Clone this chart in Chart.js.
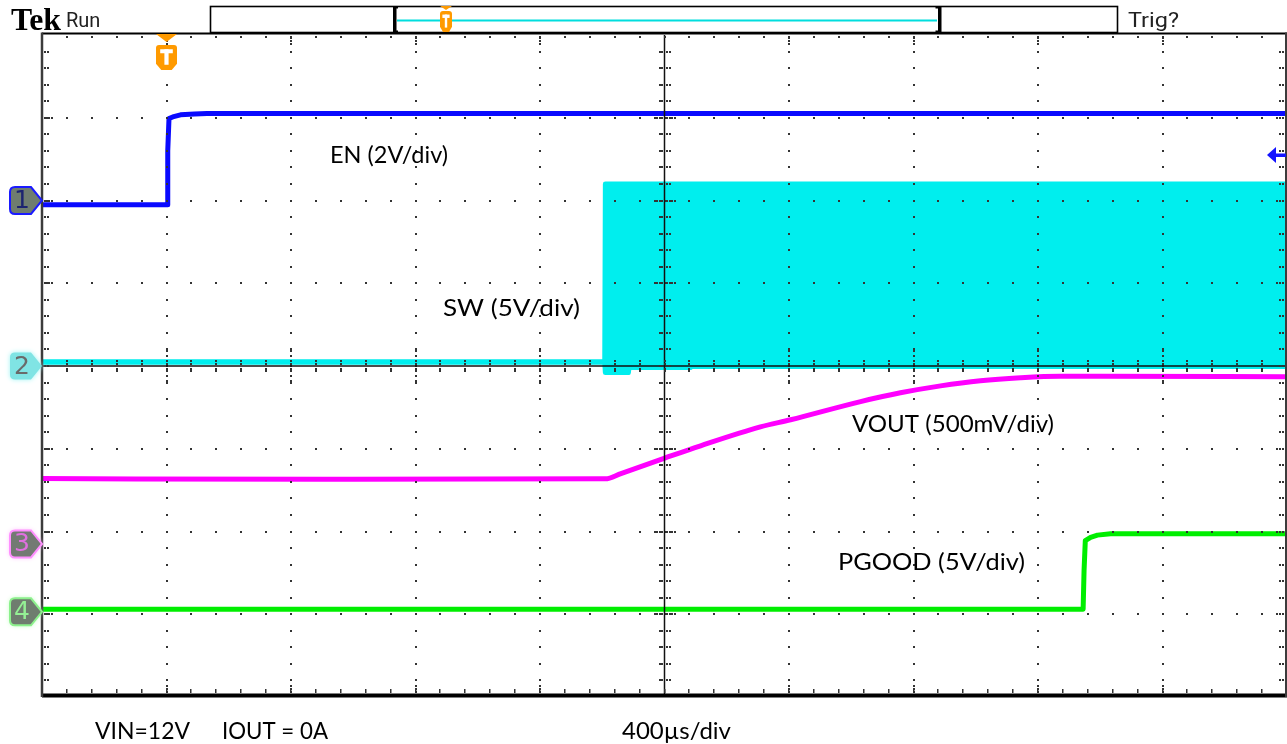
<!DOCTYPE html>
<html>
<head>
<meta charset="utf-8">
<title>Start-up waveforms</title>
<script src="https://cdn.jsdelivr.net/npm/chart.js@4.4.1/dist/chart.umd.min.js"></script>
<style>
  html, body { margin: 0; padding: 0; background: #fff; overflow: hidden; }
  #wrap { width: 1287px; height: 744px; position: relative; }
</style>
</head>
<body>
<div id="wrap"><canvas id="scope" width="1287" height="744"></canvas></div>
<script>
// ---- Horizontal axis: time in µs relative to the trigger, 400 µs/div, 10 divisions ----
const timeStart = -400;
const timeEnd = 3600;
const timePerDiv = 400;

// ---- Channel set-up ----
const channelNames  = ['EN', 'SW', 'VOUT', 'PGOOD'];
const channelLabels = ['EN (2V/div)', 'SW (5V/div)', 'VOUT (500mV/div)', 'PGOOD (5V/div)'];
const voltsPerDiv   = [2, 5, 0.5, 5];
const groundDiv     = [2.0, 0.0, -2.15, -2.97];   // ground reference, divisions from screen centre

// ---- EN (channel 1) ----
const enTime  = [-400, 2, 4, 8, 20, 45, 90, 130, 3600];
const enVolts = [-0.1, -0.1, 1.2, 1.98, 2.02, 2.07, 2.09, 2.1, 2.1];

// ---- SW (channel 2): the switching burst is shown as its upper / lower envelope ----
const swTime  = [-400, 1408, 1410, 1484, 1486, 1684, 1686, 3600];
const swUpper = [0.24, 0.24, 11.0, 11.0, 11.0, 11.0, 11.0, 11.0];
const swLower = [0.24, 0.24, -0.4, -0.4, -0.09, -0.09, -0.03, -0.03];

// ---- VOUT (channel 3) ----
const voutTime  = [-400, 500, 1410, 1460, 1603, 1716, 1908, 2005, 2230, 2358, 2487, 2615, 2744, 2872, 3000, 3600];
const voutVolts = [0.395, 0.39, 0.393, 0.425, 0.52, 0.593, 0.707, 0.75, 0.86, 0.913, 0.955, 0.986, 1.004, 1.013, 1.013, 1.01];

// ---- PGOOD (channel 4) ----
const pgTime  = [-400, 2945, 2948, 2952, 2969, 2991, 3033, 3600];
const pgVolts = [0.15, 0.15, 2.5, 4.3, 4.5, 4.63, 4.72, 4.72];

// ---- Trigger ----
const triggerTime  = 0;     // µs
const triggerLevel = 1.1;   // V on channel 1

// Convert a channel voltage to screen divisions
function toDiv(v, ch) { return groundDiv[ch] + v / voltsPerDiv[ch]; }
function points(times, volts, ch) { return times.map((t, i) => ({ x: t, y: toDiv(volts[i], ch) })); }

const colors = ['#0a0aff', '#00eeee', '#ff00ff', '#00ee00'];

// ---- Graticule drawn over the traces ----
const graticule = {
  id: 'graticule',
  afterDatasetsDraw(chart) {
    const { ctx, chartArea: a } = chart;
    const dx = (a.right - a.left) / 10, dy = (a.bottom - a.top) / 8;
    const cx = a.left + 5 * dx, cy = a.top + 4 * dy;
    ctx.save();
    ctx.fillStyle = '#333';
    const dot = (x, y) => ctx.fillRect(Math.round(x) - 1, Math.round(y) - 1, 2, 2);

    // dotted vertical division lines
    for (let i = 1; i < 10; i++) {
      if (i === 5) continue;
      const x = a.left + i * dx;
      for (let k = 1; k < 40; k++) dot(x, a.top + k * dy / 5);
      [3, 6, 9].forEach(o => { dot(x, a.top + o); dot(x, a.bottom - o - 2); });
      [-15, -10, -5, 5, 10, 15].forEach(o => dot(x, cy + o));
    }
    // dotted horizontal division lines
    for (let j = 1; j < 8; j++) {
      if (j === 4) continue;
      const y = a.top + j * dy;
      for (let k = 1; k < 50; k++) dot(a.left + k * dx / 5, y);
      [4, 7, 10].forEach(o => { dot(a.left + o, y); dot(a.right - o, y); });
      [-10, -7.5, -5, 5, 7.5, 10].forEach(o => dot(cx + o, y));
    }

    // centre cross with minor ticks
    ctx.strokeStyle = '#111';
    ctx.lineWidth = 1.5;
    ctx.beginPath();
    ctx.moveTo(cx, a.top); ctx.lineTo(cx, a.bottom);
    ctx.moveTo(a.left, cy); ctx.lineTo(a.right, cy);
    ctx.stroke();
    for (let k = 1; k < 40; k++) {
      const y = a.top + k * dy / 5;
      [-5, -2.5, 2.5, 5].forEach(o => dot(cx + o, y));
    }
    for (let k = 1; k < 50; k++) {
      const x = a.left + k * dx / 5;
      [-5, -2.5, 2.5, 5].forEach(o => dot(x, cy + o));
    }

    // border ticks
    for (let k = 1; k < 50; k++) {
      const x = a.left + k * dx / 5;
      dot(x, a.top + 2);
      ctx.fillRect(Math.round(x) - 1, a.bottom - 8, 1.5, 4);
    }
    for (let k = 1; k < 40; k++) {
      const y = a.top + k * dy / 5;
      dot(a.left + 3, y); dot(a.left + 6, y);
      dot(a.right - 4, y); dot(a.right - 7, y);
    }

    // frame
    ctx.strokeStyle = '#000';
    ctx.lineWidth = 2;
    ctx.beginPath(); ctx.moveTo(a.left, a.top - 1.5); ctx.lineTo(a.right, a.top - 1.5); ctx.stroke();
    ctx.lineWidth = 4;
    ctx.beginPath(); ctx.moveTo(a.left, a.bottom - 1.5); ctx.lineTo(a.right, a.bottom - 1.5); ctx.stroke();
    ctx.strokeStyle = '#3c3c3c';
    ctx.lineWidth = 2.5;
    ctx.beginPath(); ctx.moveTo(a.left, a.top - 2.5); ctx.lineTo(a.left, a.bottom); ctx.stroke();
    ctx.lineWidth = 2;
    ctx.beginPath(); ctx.moveTo(a.right - 1, a.top - 2.5); ctx.lineTo(a.right - 1, a.bottom); ctx.stroke();
    ctx.restore();
  }
};

// ---- Scope furniture: header, markers, annotations ----
function channelMarker(ctx, tipX, y, fill, stroke, glow, label, labelColor) {
  const h = 13.5, left = tipX - 32, bodyRight = tipX - 11, r = 5;
  ctx.save();
  ctx.beginPath();
  ctx.moveTo(left + r, y - h);
  ctx.lineTo(bodyRight, y - h);
  ctx.lineTo(tipX, y);
  ctx.lineTo(bodyRight, y + h);
  ctx.lineTo(left + r, y + h);
  ctx.quadraticCurveTo(left, y + h, left, y + h - r);
  ctx.lineTo(left, y - h + r);
  ctx.quadraticCurveTo(left, y - h, left + r, y - h);
  ctx.closePath();
  if (glow) { ctx.shadowColor = glow; ctx.shadowBlur = 5; }
  ctx.fillStyle = fill;
  ctx.fill();
  ctx.shadowBlur = 0;
  if (stroke) { ctx.strokeStyle = stroke; ctx.lineWidth = 2; ctx.stroke(); }
  ctx.fillStyle = labelColor;
  ctx.font = '25px "DejaVu Sans"';
  ctx.textAlign = 'center';
  ctx.textBaseline = 'middle';
  ctx.fillText(label, left + 12, y + 1);
  ctx.restore();
}

function triggerBadge(ctx, x, top, w, triH, badgeTop, badgeBottom) {
  ctx.save();
  ctx.fillStyle = '#ff9a00';
  ctx.beginPath();
  ctx.moveTo(x - w / 2, top); ctx.lineTo(x + w / 2, top); ctx.lineTo(x, top + triH); ctx.closePath();
  ctx.fill();
  const l = x - w / 2, r = x + w / 2, c = (badgeBottom - badgeTop) * 0.25;
  ctx.beginPath();
  ctx.moveTo(l + 3, badgeTop); ctx.lineTo(r - 3, badgeTop);
  ctx.quadraticCurveTo(r, badgeTop, r, badgeTop + 3);
  ctx.lineTo(r, badgeBottom - c); ctx.lineTo(x + w / 4, badgeBottom);
  ctx.lineTo(x - w / 4, badgeBottom); ctx.lineTo(l, badgeBottom - c);
  ctx.lineTo(l, badgeTop + 3); ctx.quadraticCurveTo(l, badgeTop, l + 3, badgeTop);
  ctx.closePath();
  ctx.fill();
  ctx.fillStyle = '#fff';
  const bh = badgeBottom - badgeTop;
  ctx.fillRect(x - w * 0.3, badgeTop + bh * 0.17, w * 0.6, bh * 0.16);
  ctx.fillRect(x - w * 0.1, badgeTop + bh * 0.17, w * 0.2, bh * 0.62);
  ctx.restore();
}

// Draw text stretched horizontally to a given width
function fitText(ctx, s, x, y, width) {
  const w = ctx.measureText(s).width;
  ctx.save();
  ctx.translate(x, y);
  ctx.scale(width / w, 1);
  ctx.fillText(s, 0, 0);
  ctx.restore();
}

const furniture = {
  id: 'furniture',
  afterDraw(chart) {
    const { ctx, chartArea: a, scales } = chart;
    ctx.save();

    // header
    ctx.fillStyle = '#000';
    ctx.textBaseline = 'alphabetic';
    ctx.font = 'bold 31px "Liberation Serif"';
    fitText(ctx, 'Tek', 11, 29.5, 50);
    ctx.fillStyle = '#222';
    ctx.font = '20px Roboto';
    ctx.fillText('Run', 66, 27);
    ctx.font = '21px Roboto';
    fitText(ctx, 'Trig?', 1128, 27, 51);

    // record view bar
    ctx.strokeStyle = '#000';
    ctx.lineWidth = 1.6;
    ctx.strokeRect(210.5, 6.5, 907, 26);
    ctx.strokeStyle = '#00dede';
    ctx.lineWidth = 2;
    ctx.beginPath(); ctx.moveTo(397, 20.5); ctx.lineTo(937, 20.5); ctx.stroke();
    ctx.fillStyle = '#000';
    [[393, 1], [937, -1]].forEach(([bx, dir]) => {
      const x0 = dir > 0 ? bx : bx + 1;
      ctx.fillRect(x0, 6, 3.5, 27);
      ctx.fillRect(dir > 0 ? bx : bx - 1.5, 6, 5, 2.5);
      ctx.fillRect(dir > 0 ? bx : bx - 1.5, 30.5, 5, 2.5);
    });
    triggerBadge(ctx, 446, 6, 12, 4, 11, 32);

    // trigger position marker
    const tx = scales.x.getPixelForValue(triggerTime);
    triggerBadge(ctx, tx, a.top - 1, 21, 8, 45, 70);

    // trigger level arrow (channel 1)
    const ty = scales.y.getPixelForValue(toDiv(triggerLevel, 0));
    ctx.fillStyle = '#1414ff';
    ctx.beginPath();
    ctx.moveTo(a.right - 20, ty); ctx.lineTo(a.right - 11, ty - 8); ctx.lineTo(a.right - 11, ty + 8); ctx.closePath();
    ctx.fill();
    ctx.fillRect(a.right - 12, ty - 1.5, 11, 3.5);

    // channel ground markers
    const mx = a.left;
    channelMarker(ctx, mx, scales.y.getPixelForValue(groundDiv[0]), '#6f7d6f', '#1a1aff', null, '1', '#1c2470');
    channelMarker(ctx, mx, scales.y.getPixelForValue(groundDiv[1]), '#80e4e4', null, '#a0f4f4', '2', '#6a6a6a');
    channelMarker(ctx, mx, scales.y.getPixelForValue(groundDiv[2]), '#737a73', '#ff90ff', '#ffb0ff', '3', '#e070e0');
    channelMarker(ctx, mx, scales.y.getPixelForValue(groundDiv[3]), '#6f7d6f', '#8cf08c', '#b0ffb0', '4', '#94f094');

    // trace annotations: [x, baseline, width]
    ctx.fillStyle = '#000';
    ctx.font = '24px Lato';
    ctx.textBaseline = 'alphabetic';
    const annot = [[330, 163, 118], [443, 316, 137], [852, 432, 202], [838, 570, 187]];
    channelLabels.forEach((s, i) => fitText(ctx, s, annot[i][0], annot[i][1], annot[i][2]));

    // conditions and timebase
    ctx.font = '23px Lato';
    fitText(ctx, 'VIN=12V', 95, 739, 95);
    fitText(ctx, 'IOUT = 0A', 222, 739, 106);
    fitText(ctx, timePerDiv + 'µs/div', 622, 739, 109);
    ctx.restore();
  }
};

const lineStyle = { pointRadius: 0, tension: 0, fill: false, borderJoinStyle: 'round', borderCapStyle: 'butt' };

new Chart(document.getElementById('scope'), {
  type: 'line',
  data: {
    datasets: [
      { ...lineStyle, label: channelNames[0], data: points(enTime, enVolts, 0), borderColor: colors[0], borderWidth: 5 },
      { ...lineStyle, label: channelNames[1] + ' low', data: points(swTime, swLower, 1), borderColor: colors[1], borderWidth: 5 },
      { ...lineStyle, label: channelNames[1] + ' high', data: points(swTime, swUpper, 1), borderColor: colors[1], borderWidth: 5,
        fill: '-1', backgroundColor: colors[1] },
      { ...lineStyle, label: channelNames[2], data: points(voutTime, voutVolts, 2), borderColor: colors[2], borderWidth: 5,
        cubicInterpolationMode: 'monotone' },
      { ...lineStyle, label: channelNames[3], data: points(pgTime, pgVolts, 3), borderColor: colors[3], borderWidth: 5 }
    ]
  },
  options: {
    responsive: false,
    devicePixelRatio: 1,
    animation: false,
    layout: { padding: { left: 42, right: 0, top: 35, bottom: 47 } },
    scales: {
      x: { type: 'linear', min: timeStart, max: timeEnd, display: false },
      y: { type: 'linear', min: -4, max: 4, display: false }
    },
    plugins: { legend: { display: false }, tooltip: { enabled: false } }
  },
  plugins: [graticule, furniture]
});
</script>
</body>
</html>
